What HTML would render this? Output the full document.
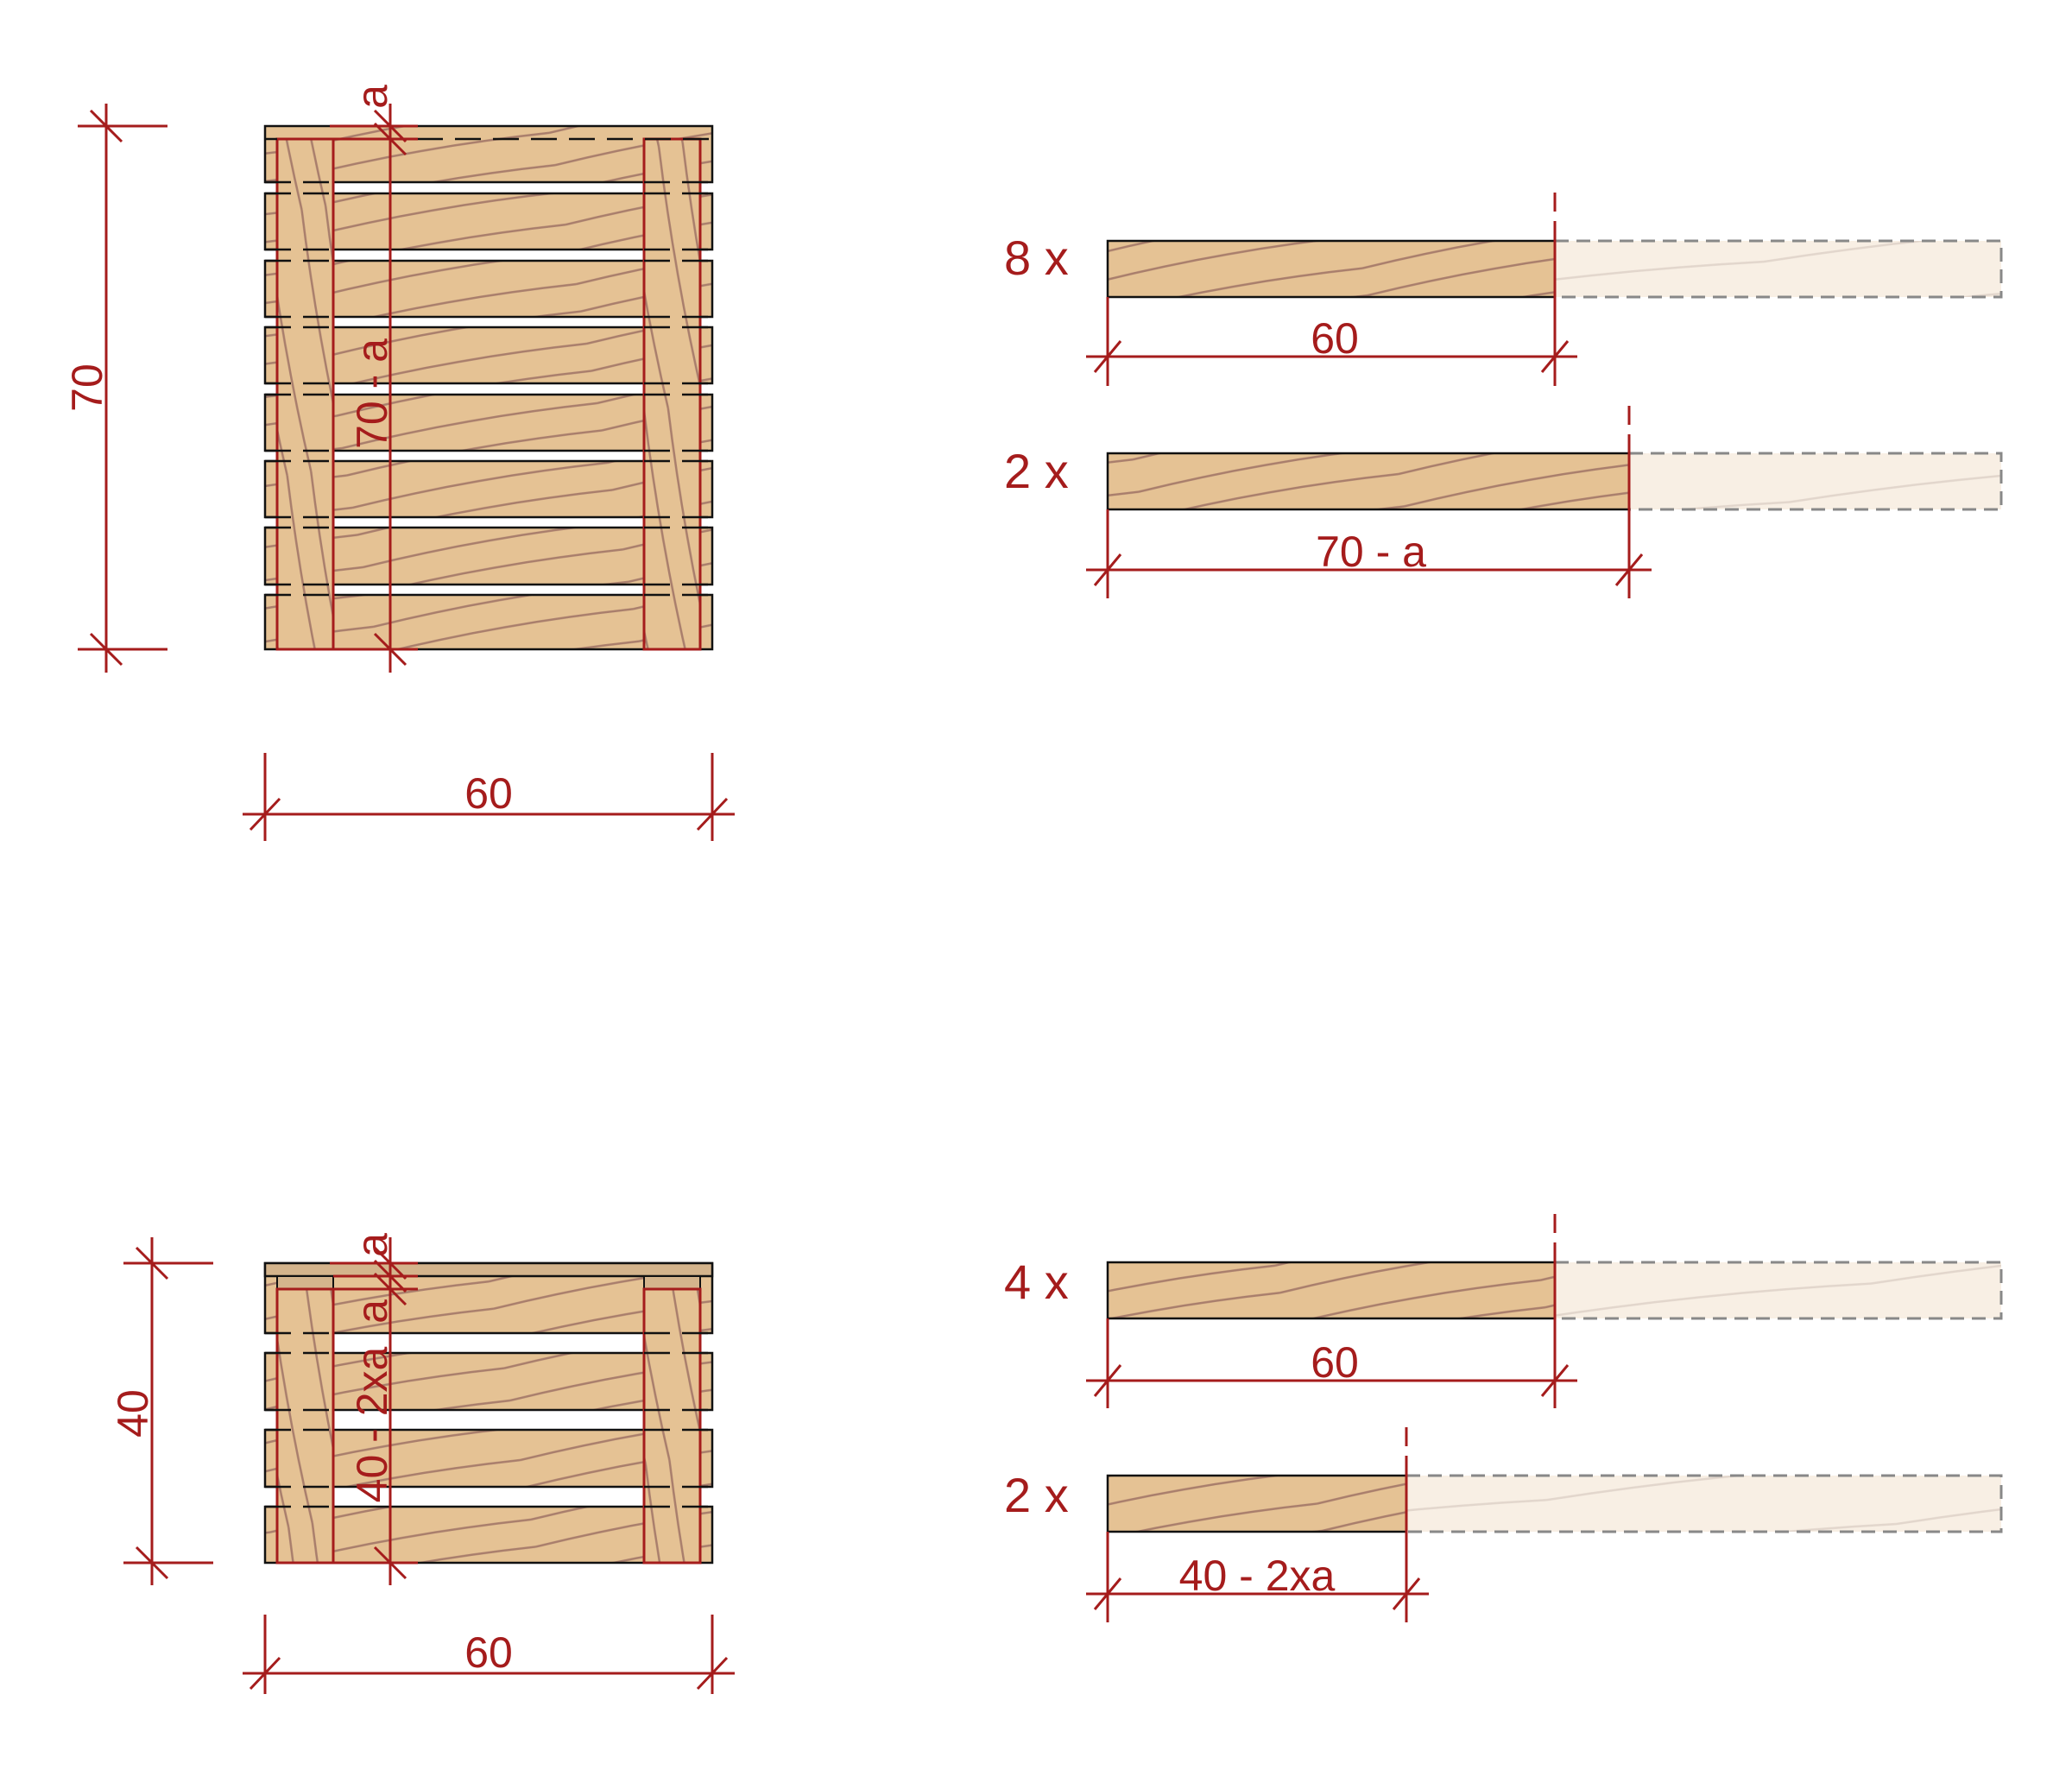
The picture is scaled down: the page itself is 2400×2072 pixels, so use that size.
<!DOCTYPE html>
<html><head><meta charset="utf-8"><style>
html,body{margin:0;padding:0;background:#fff;}
svg{display:block;}
text{font-family:"Liberation Sans",Arial,sans-serif;fill:#a51c1c;}
</style></head><body>
<svg width="2400" height="2072" viewBox="0 0 2400 2072" xmlns="http://www.w3.org/2000/svg">
<defs>
<pattern id="gh" patternUnits="userSpaceOnUse" width="300" height="70" patternTransform="rotate(-10)">
<rect width="300" height="70" fill="#e5c294"/>
<path d="M0 20 Q150 10 300 20 M0 52 Q150 42 300 52" stroke="#a97e6c" stroke-width="2.5" fill="none"/>
</pattern>
<pattern id="gv" patternUnits="userSpaceOnUse" width="70" height="300" patternTransform="rotate(-10)">
<rect width="70" height="300" fill="#e5c294"/>
<path d="M22 0 Q14 150 22 300 M50 0 Q42 150 50 300" stroke="#a97e6c" stroke-width="2.5" fill="none"/>
</pattern>
<pattern id="gg" patternUnits="userSpaceOnUse" width="400" height="70" patternTransform="rotate(-6)">
<rect width="400" height="70" fill="#f8efe4"/>
<path d="M0 25 Q200 15 400 25" stroke="#e2d6cc" stroke-width="2.5" fill="none"/>
</pattern>
</defs>

<g stroke-linecap="butt">
<!-- TOP PALLET slats -->
<g stroke="#111" stroke-width="2.5" fill="url(#gh)">
<rect x="307" y="146" width="518" height="65"/>
<rect x="307" y="224" width="518" height="65"/>
<rect x="307" y="302" width="518" height="65"/>
<rect x="307" y="379" width="518" height="65"/>
<rect x="307" y="457" width="518" height="65"/>
<rect x="307" y="534" width="518" height="65"/>
<rect x="307" y="611" width="518" height="66"/>
<rect x="307" y="689" width="518" height="63"/>
</g>
<g stroke="#a51c1c" stroke-width="3" fill="url(#gv)">
<rect x="321" y="161" width="65" height="591"/>
<rect x="746" y="161" width="65" height="591"/>
</g>
<g stroke="#111" stroke-width="2.5" stroke-dasharray="30 14">
<line x1="307" y1="161" x2="825" y2="161"/>
<line x1="307" y1="211" x2="386" y2="211"/><line x1="746" y1="211" x2="825" y2="211"/>
<line x1="307" y1="224" x2="386" y2="224"/><line x1="746" y1="224" x2="825" y2="224"/>
<line x1="307" y1="289" x2="386" y2="289"/><line x1="746" y1="289" x2="825" y2="289"/>
<line x1="307" y1="302" x2="386" y2="302"/><line x1="746" y1="302" x2="825" y2="302"/>
<line x1="307" y1="367" x2="386" y2="367"/><line x1="746" y1="367" x2="825" y2="367"/>
<line x1="307" y1="379" x2="386" y2="379"/><line x1="746" y1="379" x2="825" y2="379"/>
<line x1="307" y1="444" x2="386" y2="444"/><line x1="746" y1="444" x2="825" y2="444"/>
<line x1="307" y1="457" x2="386" y2="457"/><line x1="746" y1="457" x2="825" y2="457"/>
<line x1="307" y1="522" x2="386" y2="522"/><line x1="746" y1="522" x2="825" y2="522"/>
<line x1="307" y1="534" x2="386" y2="534"/><line x1="746" y1="534" x2="825" y2="534"/>
<line x1="307" y1="599" x2="386" y2="599"/><line x1="746" y1="599" x2="825" y2="599"/>
<line x1="307" y1="611" x2="386" y2="611"/><line x1="746" y1="611" x2="825" y2="611"/>
<line x1="307" y1="677" x2="386" y2="677"/><line x1="746" y1="677" x2="825" y2="677"/>
<line x1="307" y1="689" x2="386" y2="689"/><line x1="746" y1="689" x2="825" y2="689"/>
</g>
<!-- top pallet dims -->
<g stroke="#a51c1c" stroke-width="3">
<line x1="452" y1="120" x2="452" y2="779"/>
<line x1="382" y1="146" x2="484" y2="146"/>
<line x1="321" y1="161" x2="484" y2="161"/>
<line x1="434" y1="128" x2="470" y2="164"/>
<line x1="434" y1="143" x2="470" y2="179"/>
<line x1="386" y1="752" x2="484" y2="752"/>
<line x1="434" y1="734" x2="470" y2="770"/>
<line x1="123" y1="120" x2="123" y2="779"/>
<line x1="90" y1="146" x2="194" y2="146"/>
<line x1="90" y1="752" x2="194" y2="752"/>
<line x1="105" y1="128" x2="141" y2="164"/>
<line x1="105" y1="734" x2="141" y2="770"/>
<line x1="307" y1="872" x2="307" y2="974"/>
<line x1="825" y1="872" x2="825" y2="974"/>
<line x1="281" y1="943" x2="851" y2="943"/>
<line x1="290" y1="961" x2="324" y2="925"/>
<line x1="808" y1="961" x2="842" y2="925"/>
</g>
<text x="566" y="936" font-size="50" text-anchor="middle">60</text>
<text transform="translate(118,449) rotate(-90)" font-size="50" text-anchor="middle">70</text>
<text transform="translate(448,456) rotate(-90)" font-size="50" text-anchor="middle">70 - a</text>
<text transform="translate(448,112) rotate(-90)" font-size="50" text-anchor="middle">a</text>

<!-- BOTTOM PALLET -->
<g stroke="#111" stroke-width="2.5" fill="url(#gh)">
<rect x="307" y="1463" width="518" height="81"/>
<rect x="307" y="1567" width="518" height="66"/>
<rect x="307" y="1656" width="518" height="66"/>
<rect x="307" y="1745" width="518" height="65"/>
</g>
<rect x="307" y="1463" width="518" height="15" fill="#d4b48c" stroke="#111" stroke-width="2.5"/>
<rect x="321" y="1478" width="65" height="15" fill="#d4b48c" stroke="#111" stroke-width="2"/>
<rect x="746" y="1478" width="65" height="15" fill="#d4b48c" stroke="#111" stroke-width="2"/>
<g stroke="#a51c1c" stroke-width="3" fill="url(#gv)">
<rect x="321" y="1493" width="65" height="317"/>
<rect x="746" y="1493" width="65" height="317"/>
</g>
<g stroke="#111" stroke-width="2.5" stroke-dasharray="30 14">
<line x1="307" y1="1544" x2="386" y2="1544"/><line x1="746" y1="1544" x2="825" y2="1544"/>
<line x1="307" y1="1567" x2="386" y2="1567"/><line x1="746" y1="1567" x2="825" y2="1567"/>
<line x1="307" y1="1633" x2="386" y2="1633"/><line x1="746" y1="1633" x2="825" y2="1633"/>
<line x1="307" y1="1656" x2="386" y2="1656"/><line x1="746" y1="1656" x2="825" y2="1656"/>
<line x1="307" y1="1722" x2="386" y2="1722"/><line x1="746" y1="1722" x2="825" y2="1722"/>
<line x1="307" y1="1745" x2="386" y2="1745"/><line x1="746" y1="1745" x2="825" y2="1745"/>
</g>
<g stroke="#a51c1c" stroke-width="3">
<line x1="452" y1="1433" x2="452" y2="1836"/>
<line x1="382" y1="1463" x2="484" y2="1463"/>
<line x1="386" y1="1478" x2="484" y2="1478"/>
<line x1="386" y1="1493" x2="484" y2="1493"/>
<line x1="434" y1="1445" x2="470" y2="1481"/>
<line x1="434" y1="1460" x2="470" y2="1496"/>
<line x1="434" y1="1475" x2="470" y2="1511"/>
<line x1="386" y1="1810" x2="484" y2="1810"/>
<line x1="434" y1="1792" x2="470" y2="1828"/>
<line x1="176" y1="1433" x2="176" y2="1836"/>
<line x1="143" y1="1463" x2="247" y2="1463"/>
<line x1="143" y1="1810" x2="247" y2="1810"/>
<line x1="158" y1="1445" x2="194" y2="1481"/>
<line x1="158" y1="1792" x2="194" y2="1828"/>
<line x1="307" y1="1870" x2="307" y2="1962"/>
<line x1="825" y1="1870" x2="825" y2="1962"/>
<line x1="281" y1="1938" x2="851" y2="1938"/>
<line x1="290" y1="1956" x2="324" y2="1920"/>
<line x1="808" y1="1956" x2="842" y2="1920"/>
</g>
<text x="566" y="1931" font-size="50" text-anchor="middle">60</text>
<text transform="translate(171,1637) rotate(-90)" font-size="50" text-anchor="middle">40</text>
<text transform="translate(448,1650) rotate(-90)" font-size="50" text-anchor="middle">40 - 2xa</text>
<text transform="translate(448,1519) rotate(-90)" font-size="50" text-anchor="middle">a</text>
<text transform="translate(448,1442) rotate(-90)" font-size="50" text-anchor="middle">a</text>

<!-- RIGHT BOARDS -->
<rect x="1801" y="279" width="517" height="65" fill="url(#gg)" stroke="#888" stroke-width="3" stroke-dasharray="16 9"/>
<rect x="1283" y="279" width="518" height="65" fill="url(#gh)" stroke="#111" stroke-width="2.5"/>
<rect x="1887" y="525" width="431" height="65" fill="url(#gg)" stroke="#888" stroke-width="3" stroke-dasharray="16 9"/>
<rect x="1283" y="525" width="604" height="65" fill="url(#gh)" stroke="#111" stroke-width="2.5"/>
<rect x="1801" y="1462" width="517" height="65" fill="url(#gg)" stroke="#888" stroke-width="3" stroke-dasharray="16 9"/>
<rect x="1283" y="1462" width="518" height="65" fill="url(#gh)" stroke="#111" stroke-width="2.5"/>
<rect x="1629" y="1709" width="689" height="65" fill="url(#gg)" stroke="#888" stroke-width="3" stroke-dasharray="16 9"/>
<rect x="1283" y="1709" width="346" height="65" fill="url(#gh)" stroke="#111" stroke-width="2.5"/>

<g stroke="#a51c1c" stroke-width="3">
<line x1="1801" y1="223" x2="1801" y2="245"/>
<line x1="1801" y1="256" x2="1801" y2="447"/>
<line x1="1283" y1="344" x2="1283" y2="447"/>
<line x1="1258" y1="413" x2="1827" y2="413"/>
<line x1="1268" y1="431" x2="1298" y2="395"/>
<line x1="1786" y1="431" x2="1816" y2="395"/>
<line x1="1887" y1="470" x2="1887" y2="492"/>
<line x1="1887" y1="503" x2="1887" y2="693"/>
<line x1="1283" y1="590" x2="1283" y2="693"/>
<line x1="1258" y1="660" x2="1913" y2="660"/>
<line x1="1268" y1="678" x2="1298" y2="642"/>
<line x1="1872" y1="678" x2="1902" y2="642"/>
<line x1="1801" y1="1406" x2="1801" y2="1428"/>
<line x1="1801" y1="1439" x2="1801" y2="1631"/>
<line x1="1283" y1="1527" x2="1283" y2="1631"/>
<line x1="1258" y1="1599" x2="1827" y2="1599"/>
<line x1="1268" y1="1617" x2="1298" y2="1581"/>
<line x1="1786" y1="1617" x2="1816" y2="1581"/>
<line x1="1629" y1="1653" x2="1629" y2="1675"/>
<line x1="1629" y1="1686" x2="1629" y2="1879"/>
<line x1="1283" y1="1774" x2="1283" y2="1879"/>
<line x1="1258" y1="1846" x2="1655" y2="1846"/>
<line x1="1268" y1="1864" x2="1298" y2="1828"/>
<line x1="1614" y1="1864" x2="1644" y2="1828"/>
</g>
<text x="1546" y="409" font-size="50" text-anchor="middle">60</text>
<text x="1588" y="656" font-size="50" text-anchor="middle">70 - a</text>
<text x="1546" y="1595" font-size="50" text-anchor="middle">60</text>
<text x="1456" y="1842" font-size="50" text-anchor="middle">40 - 2xa</text>
<text x="1163" y="318" font-size="56">8 x</text>
<text x="1163" y="565" font-size="56">2 x</text>
<text x="1163" y="1504" font-size="56">4 x</text>
<text x="1163" y="1751" font-size="56">2 x</text>
</g>
</svg>
</body></html>
